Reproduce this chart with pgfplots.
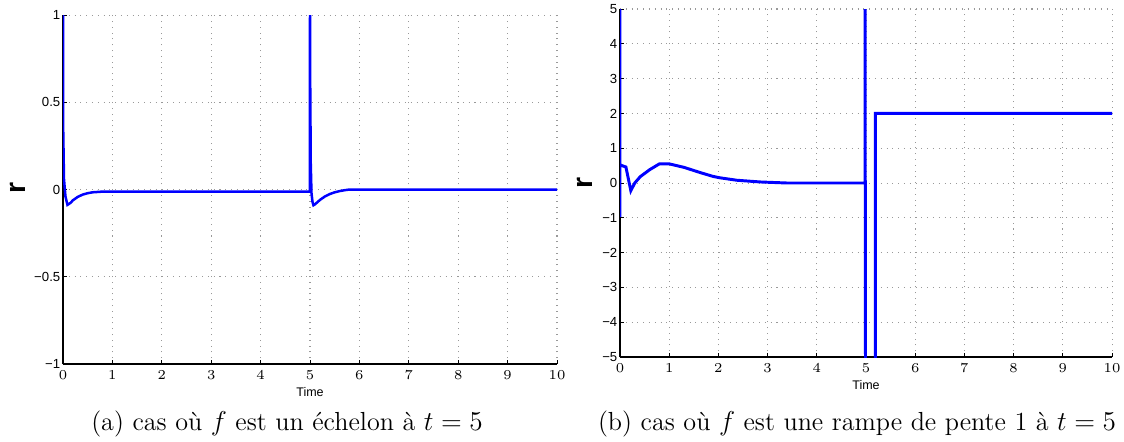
\documentclass[border=0pt]{standalone}
\usepackage{fontspec}
\usepackage{pgfplots}
\pgfplotsset{compat=1.18}
\newfontfamily\hv{Liberation Sans}

\pgfplotsset{
  mlab/.style={
    scale only axis,
    axis lines*=left,
    axis line style={black, line width=0.5pt},
    tick align=inside,
    major tick length=1.8pt,
    tick style={black, line width=0.4pt},
    xmin=0, xmax=10,
    xtick={0,1,...,10},
    grid=major,
    major grid style={gray!80, line width=0.45pt, dash pattern=on 0.45pt off 2.1pt},
    tick label style={font=\hv\fontsize{5.8}{6}\selectfont},
    yticklabel style={inner sep=1pt},
    xticklabel style={inner sep=1pt, yshift=-1.8pt},
    xlabel={Time},
    xlabel style={font=\hv\fontsize{5.5}{6}\selectfont, anchor=center},
    ylabel={r},
    ylabel style={font=\hv\bfseries\fontsize{12.5}{13}\selectfont, anchor=center, rotate=0},
  }
}

\begin{document}
\begin{tikzpicture}
\useasboundingbox (0pt,0pt) rectangle (494.56pt,-194.04pt);

% (a) echelon
\begin{axis}[mlab,
    at={(27.72pt,-160.16pt)}, anchor=south west,
    width=217.36pt, height=153.56pt,
    ymin=-1, ymax=1,
    ytick={-1,-0.5,0,0.5,1},
    yticklabels={−1,−0.5,0,0.5,1},
    xlabel style={at={(axis description cs:0.5,-0.08)}},
    ylabel style={at={(axis description cs:-0.092,0.504)}},
]
\addplot[blue, line width=1.1pt] coordinates {
  (0,1) (0.005,0.33) (0.02,0.06) (0.05,-0.04) (0.09,-0.088) (0.15,-0.077)
  (0.2,-0.062) (0.3,-0.042) (0.4,-0.029) (0.5,-0.021) (0.6,-0.016)
  (0.8,-0.012) (4.995,-0.012) (5.0,1.0) (5.005,0.58) (5.015,0.15)
  (5.03,-0.02) (5.05,-0.07) (5.07,-0.09) (5.1,-0.085) (5.2,-0.06)
  (5.3,-0.04) (5.4,-0.026) (5.5,-0.016) (5.6,-0.009) (5.7,-0.004)
  (5.8,0) (10,0)
};
\end{axis}

% (b) rampe
\begin{axis}[mlab,
    at={(272.8pt,-157.08pt)}, anchor=south west,
    width=216.48pt, height=153.12pt,
    ymin=-5, ymax=5,
    ytick={-5,-4,...,5},
    yticklabels={−5,−4,−3,−2,−1,0,1,2,3,4,5},
    xlabel style={at={(axis description cs:0.5,-0.08)}},
    ylabel style={at={(axis description cs:-0.071,0.5)}},
]
\addplot[blue, line width=1.3pt] coordinates {
  (0,6) (0,-0.98) (0,0.52) (0.12,0.46) (0.22,-0.22) (0.3,0.0) (0.41,0.18)
  (0.6,0.38) (0.8,0.55) (1.0,0.55) (1.3,0.45) (1.63,0.30) (1.89,0.19)
  (2.03,0.15) (2.37,0.08) (2.85,0.03) (3.4,0.0) (4.98,0) (4.98,6)
  (4.99,-6) (5.19,-6) (5.19,2) (10,2)
};
\end{axis}

\node[anchor=base, font=\fontsize{11.5}{13}\selectfont] at (126.3pt,-189.6pt)
  {(a) cas où $f$ est un échelon à $t=5$};
\node[anchor=base, font=\fontsize{11.5}{13}\selectfont] at (377.1pt,-189.6pt)
  {(b) cas où $f$ est une rampe de pente 1 à $t=5$};
\end{tikzpicture}
\end{document}
